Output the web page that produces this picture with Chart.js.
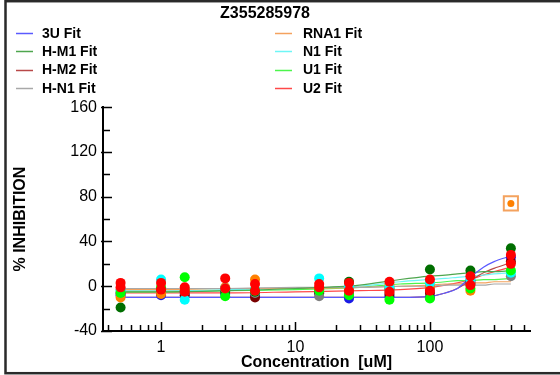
<!DOCTYPE html>
<html>
<head>
<meta charset="utf-8">
<script src="https://cdn.jsdelivr.net/npm/chart.js@4/dist/chart.umd.min.js"></script>
<style>
  html, body { margin: 0; padding: 0; background: #fff; }
  #wrap { width: 560px; height: 375px; position: relative; }
</style>
</head>
<body>
<div id="wrap"><canvas id="c" width="560" height="375"></canvas></div>
<script>
// Concentrations tested (uM) and the points where each fitted curve is traced
const CONC = [0.5, 1, 1.5, 3, 5, 15, 25, 50, 100, 200, 400];
const FIT_CONC = [0.5, 1, 3, 10, 30, 60, 100, 130, 160, 200, 250, 300, 400];

// Axis tick labels
const X_TICKS = [1, 10, 100];
const Y_TICKS = [-40, 0, 40, 80, 120, 160];

// Measured % inhibition per target
const OBS_3U   = [-8, -8, -6, -7, -8, -6, -11, -9, -10, 5, 26];
const OBS_HM1  = [-19, -3, -4, -5, -5, -3, 4, -2, 15, 14, 34];
const OBS_HM2  = [-6, -6, -8, -2, -10, -6, -6, -7, -6, 3, 22];
const OBS_HN1  = [-3, -4, -5, -3, -6, -9, -5, -4, -2, 2, 9];
const OBS_RNA1 = [-10, -7, -4, -1, 6, -2, -3, 1, 0, -4, null];
const OBS_N1   = [-4, 6, -12, -2, -3, 7, 0, -1, 3, 6, 12];
const OBS_U1   = [-6, -1, 8, -9, -4, -4, -8, -12, -11, -2, 14];
const OBS_U2_A = [3, 3, -1, 7, 2, 2, 3, 4, 6, 9, 28];
const OBS_U2_B = [-1, -3, -5, -2, -4, -1, -4, -5, -4, 1, 20];
// Point left out of the RNA1 fit
const RNA1_EXCLUDED_X = [400];
const RNA1_EXCLUDED_Y = [74];

// Fitted curves, evaluated at FIT_CONC
const FIT_3U   = [-10, -10, -10, -10, -10, -10, -9, -6, -2, 8, 17, 22, 27];
const FIT_HM1  = [-5, -5, -4, -2, 1, 6, 9, 10, 11, 12, 13, 13, 14];
const FIT_HM2  = [-10, -10, -10, -10, -10, -10, -9, -6, -2, 5, 12, 16, 21];
const FIT_HN1  = [-2, -2, -2, -1, -1, 0, 0, 1, 1, 1, 1, 2, 2];
const FIT_RNA1 = [-3, -3, -2, -2, -1, 0, 1, 2, 2, 3, 3, 4, 4];
const FIT_N1   = [-4, -4, -3, -2, 0, 4, 6, 7, 8, 9, 10, 11, 12];
const FIT_U1   = [-5, -5, -4, -3, -1, 2, 3, 4, 5, 5, 6, 6, 7];
const FIT_U2   = [-6, -6, -6, -5, -4, -3, -1, 1, 3, 6, 10, 13, 17];

const NAMES = ['3U', 'H-M1', 'H-M2', 'H-N1', 'RNA1', 'N1', 'U1', 'U2'];
const LINE_COLORS  = ['#5a5aff', '#4ea64e', '#b84848', '#a8a8a8', '#f4a25e', '#6ef6f6', '#4cf54c', '#ff4848'];
const POINT_COLORS = ['#1a1ae6', '#006e00', '#7a0000', '#808080', '#ff8000', '#00ffff', '#00ff00', '#ff0000'];
const OBS = [[OBS_3U], [OBS_HM1], [OBS_HM2], [OBS_HN1], [OBS_RNA1], [OBS_N1], [OBS_U1], [OBS_U2_A, OBS_U2_B]];
const FITS = [FIT_3U, FIT_HM1, FIT_HM2, FIT_HN1, FIT_RNA1, FIT_N1, FIT_U1, FIT_U2];
// stacking of the point clouds (lower = drawn on top)
const POINT_ORDER = [8, 5, 7, 6, 4, 3, 2, 1];

const toXY = (xs, ys) => xs.map((x, i) => ({ x: x, y: ys[i] })).filter(p => p.y !== null);

const datasets = [];
NAMES.forEach((name, i) => {
  datasets.push({
    label: name + ' Fit',
    data: toXY(FIT_CONC, FITS[i]),
    showLine: true,
    borderColor: LINE_COLORS[i],
    borderWidth: 1.2,
    pointRadius: 0,
    pointHoverRadius: 0,
    cubicInterpolationMode: 'monotone',
    fill: false,
    order: 20 + i,
    isFit: true
  });
});
NAMES.forEach((name, i) => {
  OBS[i].forEach((arr, k) => {
    datasets.push({
      label: name + (k ? ' rep ' + (k + 1) : ''),
      data: toXY(CONC, arr),
      showLine: false,
      pointRadius: 5,
      pointBorderWidth: 0,
      backgroundColor: POINT_COLORS[i],
      borderColor: POINT_COLORS[i],
      order: POINT_ORDER[i]
    });
  });
});
datasets.push({
  label: 'RNA1 excluded',
  data: toXY(RNA1_EXCLUDED_X, RNA1_EXCLUDED_Y),
  showLine: false,
  pointRadius: 3.5,
  pointBorderWidth: 0,
  backgroundColor: POINT_COLORS[4],
  order: 0
});
datasets.push({
  label: 'RNA1 excluded box',
  data: toXY(RNA1_EXCLUDED_X, RNA1_EXCLUDED_Y),
  showLine: false,
  pointStyle: 'rect',
  pointRadius: 10,
  pointBorderWidth: 2,
  backgroundColor: 'rgba(0,0,0,0)',
  borderColor: '#f4a25e',
  order: 0
});

const FONT = "'Liberation Sans', Arial, Helvetica, sans-serif";

// Inward tick marks, two-column legend and outer frame
const decorPlugin = {
  id: 'decor',
  afterDraw(chart) {
    const ctx = chart.ctx;
    const xs = chart.scales.x, ys = chart.scales.y;
    const area = chart.chartArea;
    ctx.save();
    ctx.strokeStyle = '#000';
    ctx.lineWidth = 1.5;
    // y ticks: labelled every 40, minor every 20
    for (let v = ys.min; v <= ys.max; v += 20) {
      const y = Math.round(ys.getPixelForValue(v)) + 0.5;
      const major = Y_TICKS.includes(v);
      ctx.beginPath();
      ctx.moveTo(area.left - (major ? 2 : 0), y);
      ctx.lineTo(area.left + (major ? 9 : 7), y);
      ctx.stroke();
    }
    // x ticks on the log axis
    for (let d = -1; d <= 2; d++) {
      for (let m = 1; m <= 9; m++) {
        const v = m * Math.pow(10, d);
        if (v < xs.min || v > xs.max) continue;
        const x = Math.round(xs.getPixelForValue(v)) + 0.5;
        const major = X_TICKS.includes(v);
        ctx.beginPath();
        ctx.moveTo(x, area.bottom);
        ctx.lineTo(x, area.bottom - (major ? 9 : 6));
        ctx.stroke();
      }
    }
    // legend
    ctx.font = 'bold 14px ' + FONT;
    ctx.textBaseline = 'middle';
    ctx.textAlign = 'left';
    chart.data.datasets.filter(ds => ds.isFit).forEach((ds, i) => {
      const col = i < 4 ? 0 : 1, row = i % 4;
      const y = 33 + row * 18.3;
      const x0 = col ? 275 : 16;
      ctx.strokeStyle = ds.borderColor;
      ctx.lineWidth = 1.5;
      ctx.beginPath();
      ctx.moveTo(x0, Math.round(y) + 0.5);
      ctx.lineTo(x0 + 17, Math.round(y) + 0.5);
      ctx.stroke();
      ctx.fillStyle = '#000';
      ctx.fillText(ds.label, col ? 303 : 42, y + 1);
    });
    // frame
    ctx.strokeStyle = '#2a2a2a';
    ctx.lineWidth = 2.5;
    ctx.strokeRect(5.5, 1.2, 570, 372);
    ctx.restore();
  }
};

new Chart(document.getElementById('c'), {
  type: 'scatter',
  data: { datasets: datasets },
  options: {
    responsive: false,
    devicePixelRatio: 1,
    animation: false,
    events: [],
    layout: { padding: { top: 0, left: 0, right: 30, bottom: 0 } },
    plugins: {
      legend: { display: false },
      tooltip: { enabled: false },
      title: {
        display: true,
        text: 'Z355285978',
        color: '#000',
        font: { family: FONT, size: 16, weight: 'bold' },
        padding: { top: 4, bottom: 84 }
      }
    },
    scales: {
      x: {
        type: 'logarithmic',
        min: 0.37,
        max: 555,
        grid: { display: false, drawTicks: false },
        border: { display: true, color: '#000', width: 2 },
        afterBuildTicks: s => { s.ticks = X_TICKS.map(v => ({ value: v })); },
        ticks: {
          color: '#000',
          font: { family: FONT, size: 16 },
          padding: 7,
          autoSkip: false,
          maxRotation: 0,
          callback: v => String(v)
        },
        title: {
          display: true,
          text: 'Concentration  [uM]',
          color: '#000',
          font: { family: FONT, size: 16, weight: 'bold' },
          padding: { top: 0, bottom: 3 }
        },
        afterFit: s => { s.height = 44; }
      },
      y: {
        min: -40,
        max: 160,
        grid: { display: false, drawTicks: false },
        border: { display: true, color: '#000', width: 2 },
        afterBuildTicks: s => { s.ticks = Y_TICKS.map(v => ({ value: v })); },
        ticks: {
          color: '#000',
          font: { family: FONT, size: 16 },
          padding: 6,
          autoSkip: false
        },
        title: {
          display: true,
          text: '% INHIBITION',
          color: '#000',
          font: { family: FONT, size: 16, weight: 'bold' },
          padding: { top: 11, bottom: 0 }
        },
        afterFit: s => { s.width = 103; }
      }
    }
  },
  plugins: [decorPlugin]
});
</script>
</body>
</html>
